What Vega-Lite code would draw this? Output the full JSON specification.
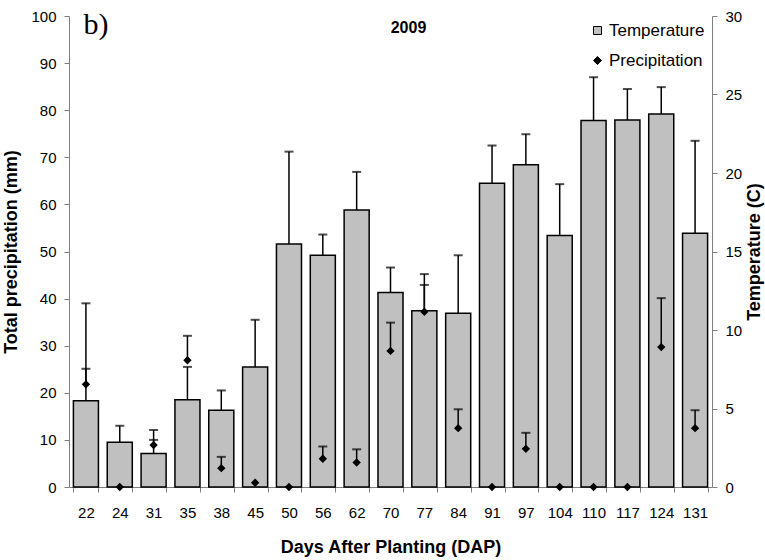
{
  "$schema": "https://vega.github.io/schema/vega-lite/v6.json",
  "autosize": "none",
  "width": 643,
  "height": 471,
  "padding": {"left": 69, "top": 16, "right": 53, "bottom": 73},
  "background": "white",
  "config": {
    "font": "Liberation Sans",
    "view": {"stroke": null},
    "axis": {"grid": false, "domainColor": "#808080", "tickColor": "#808080", "labelColor": "#000000", "titleColor": "#000000", "labelFont": "Liberation Sans", "titleFont": "Liberation Sans"}
  },
  "data": {
    "values": [
      {"dap": "22", "temp": 5.49, "tempHi": 11.7, "precip": 21.8, "precipHi": 25.1},
      {"dap": "24", "temp": 2.85, "tempHi": 3.9, "precip": 0, "precipHi": null},
      {"dap": "31", "temp": 2.13, "tempHi": 3.63, "precip": 8.9, "precipHi": 10.0},
      {"dap": "35", "temp": 5.55, "tempHi": 7.65, "precip": 26.9, "precipHi": 32.1},
      {"dap": "38", "temp": 4.89, "tempHi": 6.15, "precip": 4.0, "precipHi": 6.4},
      {"dap": "45", "temp": 7.65, "tempHi": 10.65, "precip": 0.9, "precipHi": null},
      {"dap": "50", "temp": 15.48, "tempHi": 21.36, "precip": 0, "precipHi": null},
      {"dap": "56", "temp": 14.76, "tempHi": 16.08, "precip": 6.0, "precipHi": 8.6},
      {"dap": "62", "temp": 17.64, "tempHi": 20.07, "precip": 5.2, "precipHi": 8.0},
      {"dap": "70", "temp": 12.39, "tempHi": 13.98, "precip": 28.9, "precipHi": 34.9},
      {"dap": "77", "temp": 11.22, "tempHi": 13.56, "precip": 37.2, "precipHi": 42.9},
      {"dap": "84", "temp": 11.07, "tempHi": 14.76, "precip": 12.5, "precipHi": 16.5},
      {"dap": "91", "temp": 19.35, "tempHi": 21.75, "precip": 0, "precipHi": null},
      {"dap": "97", "temp": 20.52, "tempHi": 22.47, "precip": 8.1, "precipHi": 11.5},
      {"dap": "104", "temp": 16.02, "tempHi": 19.29, "precip": 0, "precipHi": null},
      {"dap": "110", "temp": 23.34, "tempHi": 26.1, "precip": 0, "precipHi": null},
      {"dap": "117", "temp": 23.37, "tempHi": 25.35, "precip": 0, "precipHi": null},
      {"dap": "124", "temp": 23.76, "tempHi": 25.47, "precip": 29.7, "precipHi": 40.1},
      {"dap": "131", "temp": 16.17, "tempHi": 22.05, "precip": 12.5, "precipHi": 16.3}
    ]
  },
  "encoding": {
    "x": {
      "field": "dap", "type": "nominal", "sort": null,
      "scale": {"paddingInner": 0.26, "paddingOuter": 0.13},
      "axis": {"title": "Days After Planting (DAP)", "labelAngle": 0, "labelFontSize": 15, "titleFontSize": 18, "titleFontWeight": "bold", "tickBand": "extent", "tickSize": 5, "labelPadding": 13, "titlePadding": 18}
    }
  },
  "layer": [
    {
      "layer": [
        {
          "mark": {"type": "bar", "stroke": "#000000", "strokeWidth": 1.5},
          "encoding": {
            "y": {"field": "temp", "type": "quantitative", "scale": {"domain": [0, 30], "nice": false},
              "axis": {"orient": "right", "title": "Temperature (C)", "titleAngle": -90, "titleBaseline": "top", "values": [0, 5, 10, 15, 20, 25, 30], "labelFontSize": 15, "titleFontSize": 18, "titleFontWeight": "bold", "tickSize": 5, "labelPadding": 8, "titlePadding": 4}},
            "color": {"datum": "Temperature", "type": "nominal",
              "scale": {"domain": ["Temperature", "Precipitation"], "range": ["#c0c0c0", "#000000"]},
              "legend": {"title": null, "orient": "none", "legendX": 520, "legendY": 6, "padding": 0, "labelFontSize": 17, "symbolSize": 64, "symbolStrokeColor": "#000000", "symbolStrokeWidth": 1, "rowPadding": 12, "labelOffset": 3,
                "encode": {"symbols": {"update": {"shape": {"signal": "datum.value === 'Temperature' ? 'square' : 'diamond'"}}}}}}
          }
        },
        {
          "mark": {"type": "rule", "color": "#000000", "strokeWidth": 1.5},
          "encoding": {"y": {"field": "temp", "type": "quantitative"}, "y2": {"field": "tempHi"}}
        },
        {
          "mark": {"type": "tick", "color": "#000000", "thickness": 2, "size": 9},
          "encoding": {"y": {"field": "tempHi", "type": "quantitative"}}
        }
      ]
    },
    {
      "layer": [
        {
          "mark": {"type": "rule", "color": "#000000", "strokeWidth": 1.5},
          "transform": [{"filter": "datum.precipHi != null"}],
          "encoding": {
            "y": {"field": "precip", "type": "quantitative", "scale": {"domain": [0, 100], "nice": false},
              "axis": {"orient": "left", "title": "Total precipitation (mm)", "values": [0, 10, 20, 30, 40, 50, 60, 70, 80, 90, 100], "labelFontSize": 15, "titleFontSize": 18, "titleFontWeight": "bold", "tickSize": 5, "labelPadding": 8, "titlePadding": 10}},
            "y2": {"field": "precipHi"}
          }
        },
        {
          "mark": {"type": "tick", "color": "#000000", "thickness": 2, "size": 9},
          "transform": [{"filter": "datum.precipHi != null"}],
          "encoding": {"y": {"field": "precipHi", "type": "quantitative"}}
        },
        {
          "mark": {"type": "point", "shape": "diamond", "filled": true, "size": 70, "opacity": 1},
          "encoding": {
            "y": {"field": "precip", "type": "quantitative"},
            "color": {"datum": "Precipitation", "type": "nominal"}
          }
        },
        {
          "data": {"values": [{"label": "2009"}]},
          "mark": {"type": "text", "fontSize": 16, "fontWeight": "bold", "dx": 18, "align": "center", "baseline": "middle", "color": "#000000"},
          "encoding": {"x": {"datum": "70"}, "y": {"datum": 97.5}, "text": {"field": "label"}}
        },
        {
          "data": {"values": [{"label": "b)"}]},
          "mark": {"type": "text", "font": "Liberation Serif", "fontSize": 30, "dx": 10, "align": "center", "baseline": "middle", "color": "#000000"},
          "encoding": {"x": {"datum": "22"}, "y": {"datum": 98}, "text": {"field": "label"}}
        }
      ]
    }
  ],
  "resolve": {"scale": {"y": "independent"}}
}
